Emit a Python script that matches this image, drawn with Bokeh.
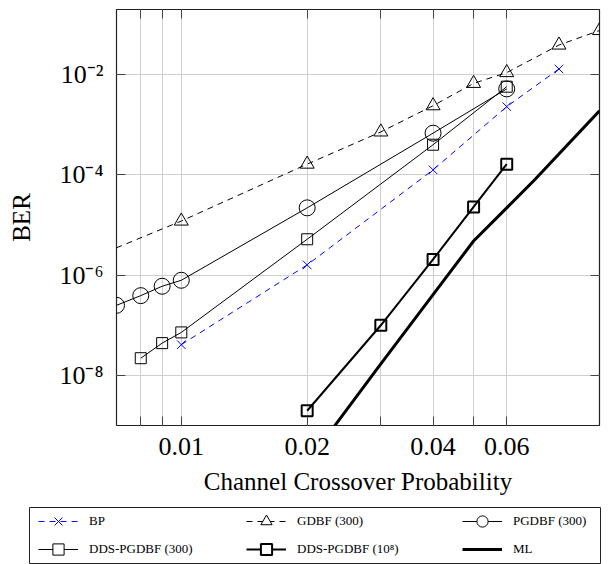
from bokeh.plotting import figure
from bokeh.models import (Range1d, FixedTicker, CustomJSTickFormatter, LogAxis,
                          Legend, LegendItem)
from bokeh.embed import file_html
from bokeh.resources import INLINE

FONT = "Liberation Serif"

# ---------------- data ----------------
bp_x = [0.01, 0.02, 0.04, 0.06, 0.08]
bp_y = [4.1e-8, 1.6e-6, 1.26e-4, 2.3e-3, 1.3e-2]

gdbf_x = [0.005, 0.01, 0.02, 0.03, 0.04, 0.05, 0.06, 0.08, 0.1]
gdbf_y = [1.1e-6, 1.2e-5, 1.64e-4, 7.2e-4, 2.4e-3, 6.7e-3, 1.1e-2, 3.9e-2, 7.6e-2]

pgdbf_x = [0.007, 0.008, 0.009, 0.01, 0.02, 0.04, 0.06]
pgdbf_y = [2.5e-7, 3.9e-7, 6.0e-7, 7.9e-7, 2.2e-5, 6.8e-4, 5.2e-3]

dds300_x = [0.008, 0.009, 0.01, 0.02, 0.04, 0.06]
dds300_y = [2.2e-8, 4.4e-8, 7.2e-8, 5.2e-6, 4.0e-4, 5.75e-3]

dds1e8_x = [0.02, 0.03, 0.04, 0.05, 0.06]
dds1e8_y = [1.97e-9, 1.0e-7, 2.06e-6, 2.3e-5, 1.64e-4]

ml_x = [0.02, 0.03, 0.04, 0.05, 0.06, 0.07, 0.1]
ml_y = [1.8e-10, 1.7e-8, 4.1e-7, 4.8e-6, 2.2e-5, 8.0e-5, 1.9e-3]

x_label_values = [0.01, 0.02, 0.04, 0.06]
x_tick_labels = ["0.01", "0.02", "0.04", "0.06"]
x_minor_ticks = [0.008, 0.009, 0.03, 0.05]
y_ticks = [1e-8, 1e-6, 1e-4, 1e-2]

labels = ["BP", "GDBF (300)", "PGDBF (300)", "DDS-PGDBF (300)",
          "DDS-PGDBF (10\u2078)", "ML"]

# ---------------- main figure ----------------
p = figure(width=603, height=506, x_axis_type="log", y_axis_type="log",
           x_range=Range1d(0.007, 0.1), y_range=Range1d(1e-9, 10 ** -0.7),
           output_backend="svg", toolbar_location=None,
           min_border_left=116, min_border_right=4, min_border_top=9,
           min_border_bottom=81)
p.outline_line_color = "#222222"
p.outline_line_width = 1.2
p.background_fill_color = "white"
p.border_fill_color = "white"

xfmt = CustomJSTickFormatter(args=dict(vals=x_label_values, labs=x_tick_labels), code="""
for (let i = 0; i < vals.length; i++) { if (Math.abs(tick - vals[i]) < 1e-9) return labs[i]; }
return tick.toFixed(2);
""")
yfmt = CustomJSTickFormatter(code="""
const e = Math.round(Math.log10(tick));
const sup = {"-": "\\u207b", "0": "\\u2070", "1": "\\u00b9", "2": "\\u00b2", "3": "\\u00b3",
             "4": "\\u2074", "5": "\\u2075", "6": "\\u2076", "7": "\\u2077", "8": "\\u2078", "9": "\\u2079"};
return "10" + String(e).split("").map(c => sup[c]).join("");
""")

xt = FixedTicker(ticks=x_label_values, minor_ticks=x_minor_ticks)
yt = FixedTicker(ticks=y_ticks, minor_ticks=[])
xt_top = FixedTicker(ticks=[], minor_ticks=x_label_values + x_minor_ticks)
yt_right = FixedTicker(ticks=[], minor_ticks=y_ticks)

xa = p.xaxis[0]
xa.ticker = xt
xa.formatter = xfmt
ya = p.yaxis[0]
ya.ticker = yt
ya.formatter = yfmt

TICK = "#444444"
for ax in (xa, ya):
    ax.axis_line_color = None
    ax.major_tick_in = 9
    ax.major_tick_out = 0
    ax.minor_tick_in = 9
    ax.minor_tick_out = 0
    ax.major_tick_line_color = TICK
    ax.minor_tick_line_color = TICK
    ax.major_label_text_font = FONT
    ax.major_label_text_font_size = "26px"
    ax.major_label_text_color = "black"
    ax.axis_label_text_font = FONT
    ax.axis_label_text_font_size = "25px"
    ax.axis_label_text_font_style = "normal"
    ax.axis_label_text_color = "black"

xa.axis_label = "Channel Crossover Probability"
xa.major_label_standoff = 12
xa.axis_label_standoff = 10
ya.axis_label = "BER"
ya.major_label_standoff = 13
ya.axis_label_standoff = 21

for tk, side in ((yt_right, "right"), (xt_top, "above")):
    ax = LogAxis(ticker=tk, axis_line_color=None, major_tick_in=0, major_tick_out=0,
                 major_tick_line_color=None, minor_tick_in=9, minor_tick_out=0,
                 minor_tick_line_color=TICK, major_label_standoff=0)
    p.add_layout(ax, side)

p.xgrid[0].ticker = xt
p.ygrid[0].ticker = yt
for g in (p.xgrid[0], p.ygrid[0]):
    g.grid_line_color = "#cfcfcf"
    g.grid_line_width = 1
p.xgrid[0].minor_grid_line_color = "#cfcfcf"
p.xgrid[0].minor_grid_line_width = 1

DASH = "6 5"
BLUE = "#0000ff"

# series renderers
p.line(gdbf_x, gdbf_y, line_color="black", line_width=1, line_dash=DASH)
p.scatter(gdbf_x, gdbf_y, marker="triangle", size=14, line_color="black",
          fill_color=None, line_width=1)
p.line(pgdbf_x, pgdbf_y, line_color="black", line_width=1)
p.scatter(pgdbf_x, pgdbf_y, marker="circle", size=16, line_color="black",
          fill_color=None, line_width=1)
p.line(dds300_x, dds300_y, line_color="black", line_width=1)
p.scatter(dds300_x, dds300_y, marker="square", size=11, line_color="black",
          fill_color=None, line_width=1)
p.line(bp_x, bp_y, line_color=BLUE, line_width=1, line_dash=DASH)
p.scatter(bp_x, bp_y, marker="x", size=12, line_color=BLUE, line_width=1)
p.line(dds1e8_x, dds1e8_y, line_color="black", line_width=2)
p.scatter(dds1e8_x, dds1e8_y, marker="square", size=11, line_color="black",
          fill_color=None, line_width=2)
p.line(ml_x, ml_y, line_color="black", line_width=3)

# ---------------- legend box (separate root, its frame is the box) ----------------
p2 = figure(width=611, height=58, x_axis_type=None, y_axis_type=None,
            x_range=Range1d(0, 1), y_range=Range1d(0, 1),
            output_backend="svg", toolbar_location=None,
            min_border_left=29, min_border_right=11, min_border_top=1,
            min_border_bottom=1)
p2.outline_line_color = "#222222"
p2.outline_line_width = 1
p2.background_fill_color = "white"
p2.border_fill_color = "white"

# legend-only sample glyphs: one point placed outside the visible range
HX, HY = [5.0], [5.0]

def lg_line(**kw):
    return p2.line(x=HX, y=HY, **kw)

def lg_mark(**kw):
    return p2.scatter(x=HX, y=HY, size=10, **kw)

e_bp = [lg_line(line_color=BLUE, line_width=1, line_dash=DASH),
        lg_mark(marker="x", line_color=BLUE, line_width=1)]
e_gdbf = [lg_line(line_color="black", line_width=1, line_dash=DASH),
          lg_mark(marker="triangle", line_color="black", fill_color="white", line_width=1)]
e_pgdbf = [lg_line(line_color="black", line_width=1),
           lg_mark(marker="circle", line_color="black", fill_color="white", line_width=1)]
e_dds300 = [lg_line(line_color="black", line_width=1),
            lg_mark(marker="square", line_color="black", fill_color="white", line_width=1)]
e_dds1e8 = [lg_line(line_color="black", line_width=2),
            lg_mark(marker="square", line_color="black", fill_color="white", line_width=2)]
e_ml = [lg_line(line_color="black", line_width=3)]

cols = [
    ([(labels[0], e_bp), (labels[3], e_dds300)], 9),
    ([(labels[1], e_gdbf), (labels[4], e_dds1e8)], 217),
    ([(labels[2], e_pgdbf), (labels[5], e_ml)], 433),
]
for entries, xoff in cols:
    lg = Legend(items=[LegendItem(label=l, renderers=r) for l, r in entries],
                location=(xoff, 0), orientation="vertical", padding=0, spacing=0,
                margin=0, border_line_color=None, background_fill_alpha=0,
                glyph_width=40, glyph_height=28, label_height=28, label_standoff=11,
                label_text_font=FONT, label_text_font_size="13px",
                label_text_color="black")
    p2.add_layout(lg, "center")

open("out.html", "w").write(file_html([p, p2], INLINE))
